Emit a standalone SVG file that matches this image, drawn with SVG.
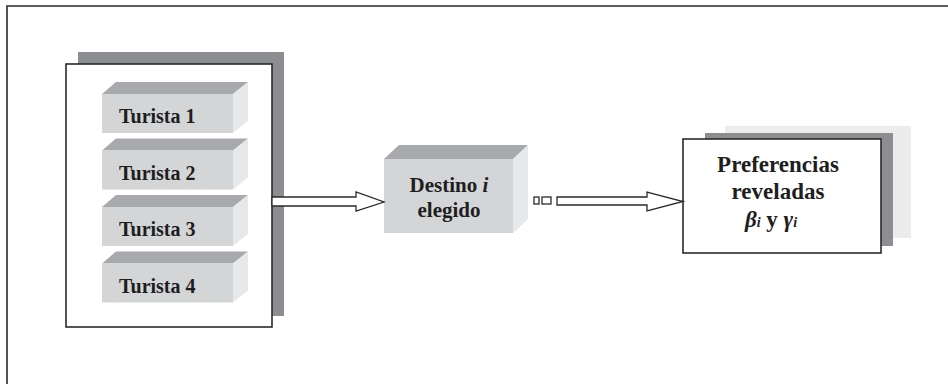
<svg xmlns="http://www.w3.org/2000/svg" width="948" height="384" viewBox="0 0 948 384">
<defs>
<style>
.frame{stroke:#2a2a2a;stroke-width:1.6;fill:none}
.box{fill:#fff;stroke:#2a2a2a;stroke-width:1.6}
.shadow{fill:#8d8e91}
.lshadow{fill:#ececec}
.top{fill:#a8a9ac}
.front{fill:#d4d5d7}
.side{fill:#e7e8e9}
.t{font-family:"Liberation Serif","Times New Roman",serif;font-weight:bold;fill:#1e1e1e}
.arrow{fill:#fff;stroke:#2a2a2a;stroke-width:1.3;stroke-linejoin:miter}
.sq{fill:#fff;stroke:#2a2a2a;stroke-width:1.3}
</style>
</defs>
<rect width="948" height="384" fill="#fff"/>
<g id="frame">
<path class="frame" d="M7,384 V6 H948"/>
</g>
<g id="tourists">
<rect class="shadow" x="78" y="52" width="206" height="264"/>
<rect class="box" x="66" y="64" width="206" height="263"/>
</g>
<g id="turista1">
<polygon class="top" points="102,94 116,82 248,82 233,94"/>
<rect class="front" x="102" y="94" width="131" height="39"/>
<polygon class="side" points="233,94 248,82 248,121 233,133"/>
<text class="t" x="119" y="123" font-size="20">Turista 1</text>
</g>
<g id="turista2">
<polygon class="top" points="102,150.5 116,138.5 248,138.5 233,150.5"/>
<rect class="front" x="102" y="150.5" width="131" height="39"/>
<polygon class="side" points="233,150.5 248,138.5 248,177.5 233,189.5"/>
<text class="t" x="119" y="179.5" font-size="20">Turista 2</text>
</g>
<g id="turista3">
<polygon class="top" points="102,207 116,195 248,195 233,207"/>
<rect class="front" x="102" y="207" width="131" height="39"/>
<polygon class="side" points="233,207 248,195 248,234 233,246"/>
<text class="t" x="119" y="236" font-size="20">Turista 3</text>
</g>
<g id="turista4">
<polygon class="top" points="102,263.5 116,251.5 248,251.5 233,263.5"/>
<rect class="front" x="102" y="263.5" width="131" height="39"/>
<polygon class="side" points="233,263.5 248,251.5 248,290.5 233,302.5"/>
<text class="t" x="119" y="292.5" font-size="20">Turista 4</text>
</g>
<g id="destino">
<polygon class="top" points="384,159 399,145 528,145 513,159"/>
<rect class="front" x="384" y="159" width="129" height="74"/>
<polygon class="side" points="513,159 528,145 528,219 513,233"/>
<text class="t" x="449" y="192" font-size="21" text-anchor="middle">Destino <tspan font-style="italic">i</tspan></text>
<text class="t" x="449" y="217" font-size="21" text-anchor="middle">elegido</text>
</g>
<g id="preferencias">
<rect class="lshadow" x="725" y="126" width="186" height="112"/>
<rect class="shadow" x="705" y="133" width="188" height="113"/>
<rect class="box" x="683" y="139" width="198" height="114"/>
<text class="t" x="778" y="172" font-size="23" text-anchor="middle">Preferencias</text>
<text class="t" x="778" y="199" font-size="23" text-anchor="middle">reveladas</text>
<text class="t" x="771" y="227" font-size="23" text-anchor="middle"><tspan font-style="italic">β</tspan><tspan font-style="italic" font-size="14">i</tspan> y <tspan font-style="italic">γ</tspan><tspan font-style="italic" font-size="14">i</tspan></text>
</g>
<g id="connectors">
<polygon class="arrow" points="272,197 356,197 356,192 384,202 356,211 356,206 272,206"/>
<rect class="sq" x="534" y="197" width="5" height="7"/>
<rect class="sq" x="542" y="197" width="9" height="7"/>
<polygon class="arrow" points="557,197 647,197 647,192 683,201.5 647,211 647,205 557,205"/>
</g>
</svg>
